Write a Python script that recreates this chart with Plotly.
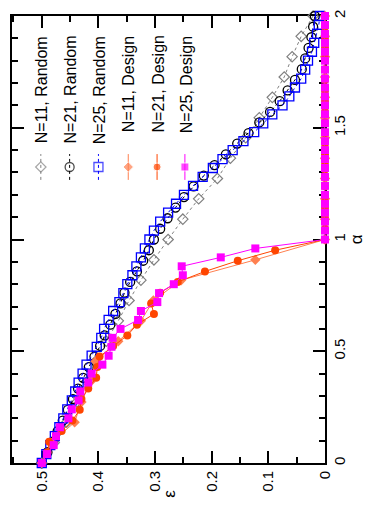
import plotly.graph_objects as go

# ---------------- data (alpha = M/N, epsilon) ----------------
alpha_n11 = [0, 0.091, 0.182, 0.273, 0.364, 0.455, 0.545, 0.636, 0.727, 0.818, 0.909, 1.0,
             1.091, 1.182, 1.273, 1.364, 1.455, 1.545, 1.636, 1.727, 1.818, 1.909, 2.0]
alpha_n21 = [0, 0.048, 0.095, 0.143, 0.190, 0.238, 0.286, 0.333, 0.381, 0.429, 0.476, 0.524,
             0.571, 0.619, 0.667, 0.714, 0.762, 0.810, 0.857, 0.905, 0.952, 1.000, 1.048,
             1.095, 1.143, 1.190, 1.238, 1.286, 1.333, 1.381, 1.429, 1.476, 1.524, 1.571,
             1.619, 1.667, 1.714, 1.762, 1.810, 1.857, 1.905, 1.952, 2.000]
alpha_n25 = [0.00, 0.04, 0.08, 0.12, 0.16, 0.20, 0.24, 0.28, 0.32, 0.36, 0.40, 0.44, 0.48,
             0.52, 0.56, 0.60, 0.64, 0.68, 0.72, 0.76, 0.80, 0.84, 0.88, 0.92, 0.96, 1.00,
             1.04, 1.08, 1.12, 1.16, 1.20, 1.24, 1.28, 1.32, 1.36, 1.40, 1.44, 1.48, 1.52,
             1.56, 1.60, 1.64, 1.68, 1.72, 1.76, 1.80, 1.84, 1.88, 1.92, 1.96, 2.00]

eps_random_n11 = [0.500, 0.478, 0.456, 0.438, 0.420, 0.405, 0.386, 0.365, 0.346, 0.325, 0.302,
                  0.277, 0.251, 0.223, 0.190, 0.167, 0.140, 0.116, 0.093, 0.072, 0.058, 0.042, 0.021]
eps_random_n21 = [0.500, 0.490, 0.481, 0.472, 0.463, 0.454, 0.445, 0.436, 0.427, 0.417, 0.407,
                  0.397, 0.389, 0.379, 0.370, 0.361, 0.354, 0.344, 0.332, 0.321, 0.311, 0.302,
                  0.291, 0.278, 0.264, 0.249, 0.232, 0.214, 0.195, 0.175, 0.155, 0.135, 0.116,
                  0.097, 0.080, 0.066, 0.053, 0.041, 0.035, 0.029, 0.024, 0.021, 0.018]
eps_random_n25 = [0.500, 0.492, 0.485, 0.477, 0.469, 0.462, 0.455, 0.447, 0.441, 0.435, 0.428,
                  0.421, 0.412, 0.403, 0.395, 0.390, 0.382, 0.374, 0.363, 0.356, 0.349, 0.340,
                  0.333, 0.325, 0.318, 0.310, 0.302, 0.291, 0.277, 0.263, 0.249, 0.233, 0.216,
                  0.198, 0.181, 0.163, 0.144, 0.125, 0.109, 0.093, 0.075, 0.063, 0.053, 0.042,
                  0.035, 0.030, 0.023, 0.019, 0.014, 0.011, 0.009]
eps_design_n11 = [0.500, 0.484, 0.442, 0.430, 0.414, 0.405, 0.365, 0.325, 0.303, 0.254, 0.123,
                  0, 0, 0, 0, 0, 0, 0, 0, 0, 0, 0, 0]
eps_design_n21 = [0.500, 0.490, 0.487, 0.465, 0.446, 0.433, 0.430, 0.418, 0.404, 0.402, 0.398,
                  0.374, 0.349, 0.332, 0.302, 0.307, 0.291, 0.260, 0.212, 0.154, 0.088,
                  0, 0, 0, 0, 0, 0, 0, 0, 0, 0, 0, 0, 0, 0, 0, 0, 0, 0, 0, 0, 0, 0]
eps_design_n25 = [0.500, 0.491, 0.479, 0.475, 0.468, 0.453, 0.447, 0.435, 0.432, 0.418, 0.412,
                  0.393, 0.382, 0.377, 0.375, 0.361, 0.330, 0.325, 0.296, 0.293, 0.267, 0.251,
                  0.253, 0.184, 0.123,
                  0, 0, 0, 0, 0, 0, 0, 0, 0, 0, 0, 0, 0, 0, 0, 0, 0, 0, 0, 0, 0, 0, 0, 0, 0, 0]

series_names = ["N=11, Random", "N=21, Random", "N=25, Random",
                "N=11, Design", "N=21, Design", "N=25, Design"]

# ---------------- layout constants ----------------
W, H = 365, 517
ML, MR, MT, MB = 10, 40, 13, 54
EPS_MAX = 0.5526
FONT = "Liberation Sans, Arial, sans-serif"

def px_to_eps(px):
    return EPS_MAX - (px - ML) / (W - ML - MR) * EPS_MAX

def py_to_alpha(py):
    return (H - MB - py) / (H - MT - MB) * 2.0

def px_paper(px):
    return (px - ML) / (W - ML - MR)

def py_paper(py):
    return (H - MB - py) / (H - MT - MB)

styles = [
    dict(x=alpha_n11, y=eps_random_n11, color="#808080", dash="dot",
         marker=dict(symbol="diamond-open", size=8, color="#808080", line=dict(width=1.2, color="#808080"))),
    dict(x=alpha_n21, y=eps_random_n21, color="#000000", dash="dot",
         marker=dict(symbol="circle-open", size=9, color="#000000", line=dict(width=1.3, color="#000000"))),
    dict(x=alpha_n25, y=eps_random_n25, color="#0000FF", dash="dot",
         marker=dict(symbol="square-open", size=9, color="#0000FF", line=dict(width=1.3, color="#0000FF"))),
    dict(x=alpha_n11, y=eps_design_n11, color="#FF8050", dash="solid",
         marker=dict(symbol="diamond", size=8, color="#FF8050")),
    dict(x=alpha_n21, y=eps_design_n21, color="#FF4500", dash="solid",
         marker=dict(symbol="circle", size=8, color="#FF4500")),
    dict(x=alpha_n25, y=eps_design_n25, color="#FF00FF", dash="solid",
         marker=dict(symbol="square", size=8, color="#FF00FF")),
]

fig = go.Figure()
for name, s in zip(series_names, styles):
    # rotated chart: epsilon on the horizontal axis, alpha on the vertical axis
    fig.add_trace(go.Scatter(
        x=s["y"], y=s["x"], mode="lines+markers", name=name,
        line=dict(color=s["color"], width=1, dash=s["dash"]),
        marker=s["marker"], cliponaxis=False, showlegend=False))

# legend (rotated)
col_px = [39, 68, 97, 127, 156, 184]
annotations = []
for i, (name, s) in enumerate(zip(series_names, styles)):
    e = px_to_eps(col_px[i])
    mk = dict(s["marker"])
    mk["size"] = [0, mk["size"], 0]
    fig.add_trace(go.Scatter(
        x=[e, e, e], y=[py_to_alpha(178), py_to_alpha(165), py_to_alpha(152)],
        mode="lines+markers", line=dict(color=s["color"], width=1, dash=s["dash"]),
        marker=mk, showlegend=False, hoverinfo="skip", cliponaxis=False))
    annotations.append(dict(
        text=name, textangle=-90, xref="paper", yref="paper",
        x=px_paper(col_px[i] + 1), y=py_paper(31), xanchor="center", yanchor="top",
        showarrow=False, font=dict(family=FONT, size=16, color="black")))

annotations.append(dict(text="α", textangle=-90, xref="paper", yref="paper",
                        x=px_paper(357), y=py_paper(238), xanchor="center", yanchor="middle",
                        showarrow=False, font=dict(family=FONT, size=17, color="black")))
annotations.append(dict(text="ε", textangle=-90, xref="paper", yref="paper",
                        x=px_paper(169), y=py_paper(494), xanchor="center", yanchor="middle",
                        showarrow=False, font=dict(family=FONT, size=17, color="black")))

fig.update_layout(
    width=W, height=H,
    margin=dict(l=ML, r=MR, t=MT, b=MB, pad=0),
    paper_bgcolor="white", plot_bgcolor="white",
    font=dict(family=FONT, size=15, color="black"),
    annotations=annotations,
    xaxis=dict(range=[EPS_MAX, 0], tickvals=[0.5, 0.4, 0.3, 0.2, 0.1, 0],
               ticktext=["0.5", "0.4", "0.3", "0.2", "0.1", "0"], tickangle=-90,
               ticks="inside", ticklen=12, tickwidth=2, tickcolor="black",
               minor=dict(dtick=0.05, tick0=0, ticks="inside", ticklen=6, tickwidth=2, tickcolor="black"),
               showline=True, linewidth=2, linecolor="black", mirror="allticks",
               showgrid=False, zeroline=False, layer="below traces",
               tickfont=dict(family=FONT, size=15)),
    yaxis=dict(range=[0, 2], side="right", tickvals=[0, 0.5, 1, 1.5, 2],
               ticktext=["0", "0.5", "1", "1.5", "2"], tickangle=-90,
               ticks="inside", ticklen=12, tickwidth=2, tickcolor="black",
               minor=dict(dtick=0.1, tick0=0, ticks="inside", ticklen=6, tickwidth=2, tickcolor="black"),
               showline=True, linewidth=2, linecolor="black", mirror="allticks",
               showgrid=False, zeroline=False, layer="below traces",
               tickfont=dict(family=FONT, size=15)),
)

fig.write_html("out.html")
